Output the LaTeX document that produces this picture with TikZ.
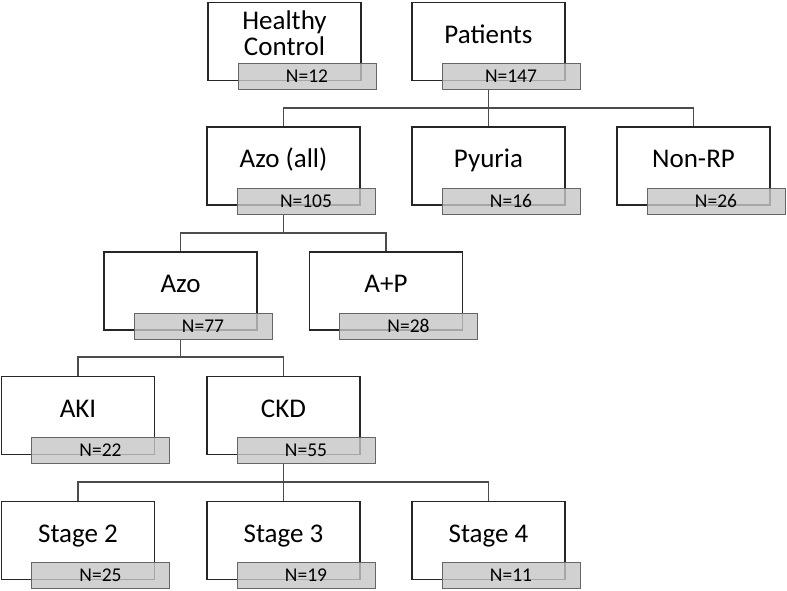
\documentclass[tikz,border=0pt]{standalone}
\usepackage{fontspec}
\setmainfont{Carlito}
\usetikzlibrary{arrows}
\tikzset{>=stealth}
\tikzset{
  grp/.style={draw=black!85, line width=1.5pt, fill=white, minimum width=153pt, minimum height=78pt,
    inner sep=0pt, text height=19pt, text depth=15.6pt, font=\fontsize{27}{26}\selectfont},
  cnt/.style={draw=black!60, line width=1pt, fill=gray!45, fill opacity=0.8, text opacity=1,
    minimum width=138pt, minimum height=26pt, inner sep=0pt, font=\fontsize{19.5}{22}\selectfont},
  link/.style={draw=black!70, line width=1.2pt}
}

\begin{document}
\begin{tikzpicture}[x=1pt, y=-1pt]
        \useasboundingbox (0,0) rectangle (787,591);

        \node[grp] (hc) at (284.5,41.5) {\begin{tabular}{@{}c@{}}Healthy\\Control\end{tabular}};
        \node[grp] (pat) at (488.5,41.5) {Patients};
        \node[grp] (azall) at (283.5,166) {Azo (all)};
        \node[grp] (pyu) at (488.5,166) {Pyuria};
        \node[grp] (nonrp) at (693.5,166) {Non-RP};
        \node[grp] (azo) at (180.5,291) {Azo};
        \node[grp] (ap) at (386,291) {A+P};
        \node[grp] (aki) at (78,415.5) {AKI};
        \node[grp] (ckd) at (283.5,415.5) {CKD};
        \node[grp] (st2) at (78,540.5) {Stage 2};
        \node[grp] (st3) at (283.5,540.5) {Stage 3};
        \node[grp] (st4) at (488.5,540.5) {Stage 4};

        \node[cnt] (hcn) at ([shift={(22.5,35)}]hc.center) {N=12};
        \node[cnt] (patn) at ([shift={(22.5,35)}]pat.center) {N=147};
        \node[cnt] (azalln) at ([shift={(22.5,35)}]azall.center) {N=105};
        \node[cnt] (pyun) at ([shift={(22.5,35)}]pyu.center) {N=16};
        \node[cnt] (nonrpn) at ([shift={(22.5,35)}]nonrp.center) {N=26};
        \node[cnt] (azon) at ([shift={(22.5,35)}]azo.center) {N=77};
        \node[cnt] (apn) at ([shift={(22.5,35)}]ap.center) {N=28};
        \node[cnt] (akin) at ([shift={(22.5,35)}]aki.center) {N=22};
        \node[cnt] (ckdn) at ([shift={(22.5,35)}]ckd.center) {N=55};
        \node[cnt] (st2n) at ([shift={(22.5,35)}]st2.center) {N=25};
        \node[cnt] (st3n) at ([shift={(22.5,35)}]st3.center) {N=19};
        \node[cnt] (st4n) at ([shift={(22.5,35)}]st4.center) {N=11};

        \coordinate (b1) at (488.5,108);
        \coordinate (b2) at (283.5,233);
        \coordinate (b3) at (180.5,357);
        \coordinate (b4) at (283.5,482);

        \draw[link] (pat.center |- patn.south) -- (b1);
        \draw[link] (azall.north) |- (b1) -| (nonrp.north);
        \draw[link] (b1) -- (pyu.north);

        \draw[link] (azall.center |- azalln.south) -- (b2);
        \draw[link] (azo.north) |- (b2) -| (ap.north);

        \draw[link] (azo.center |- azon.south) -- (b3);
        \draw[link] (aki.north) |- (b3) -| (ckd.north);

        \draw[link] (ckd.center |- ckdn.south) -- (b4);
        \draw[link] (st2.north) |- (b4) -| (st4.north);
        \draw[link] (b4) -- (st3.north);
\end{tikzpicture}
\end{document}
